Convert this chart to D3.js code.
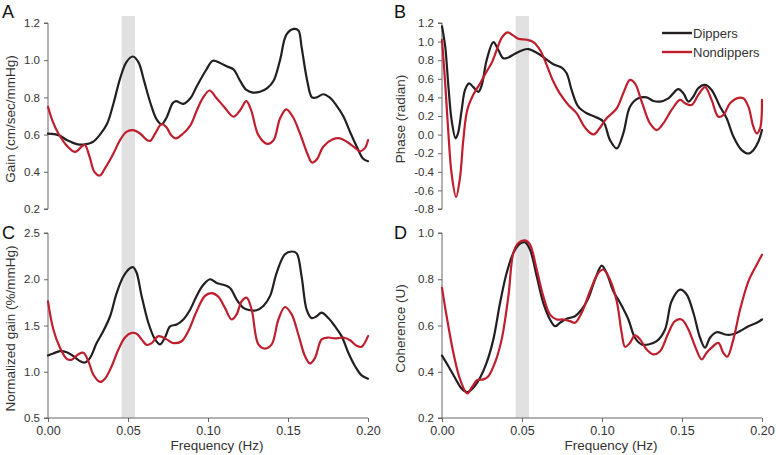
<!DOCTYPE html>
<html><head><meta charset="utf-8">
<script src="https://cdn.jsdelivr.net/npm/d3@7"></script>
<style>
body{margin:0;background:#fff;}
svg{display:block;font-family:Arial,"Liberation Sans",Helvetica,sans-serif;}
</style></head><body>
<svg id="chart" width="776" height="455"></svg>
<script>
// ---- Data ----
const xTicks = [0, 0.05, 0.10, 0.15, 0.20];
const bandRange = [0.046, 0.0544];
const seriesNames = ["Dippers", "Nondippers"];

const gainTicks = [0.2, 0.4, 0.6, 0.8, 1.0, 1.2];
const gainDippers = [[0,0.605],[0.0065,0.597],[0.012,0.57],[0.018,0.549],[0.023,0.547],[0.028,0.56],[0.0325,0.60],[0.037,0.66],[0.041,0.77],[0.045,0.90],[0.049,0.99],[0.053,1.02],[0.0565,0.99],[0.06,0.89],[0.064,0.77],[0.068,0.68],[0.071,0.655],[0.074,0.69],[0.078,0.77],[0.080,0.78],[0.0845,0.765],[0.089,0.795],[0.093,0.86],[0.099,0.95],[0.103,0.997],[0.1075,0.985],[0.112,0.966],[0.116,0.95],[0.12,0.89],[0.124,0.84],[0.128,0.826],[0.1325,0.83],[0.137,0.85],[0.141,0.89],[0.145,1.0],[0.149,1.137],[0.1535,1.168],[0.1565,1.16],[0.1585,1.07],[0.162,0.89],[0.165,0.80],[0.168,0.80],[0.172,0.817],[0.176,0.80],[0.18,0.76],[0.1845,0.70],[0.189,0.61],[0.193,0.535],[0.197,0.47],[0.2,0.457]];
const gainNondippers = [[0,0.75],[0.003,0.67],[0.0065,0.606],[0.012,0.538],[0.017,0.507],[0.021,0.535],[0.023,0.545],[0.026,0.48],[0.029,0.40],[0.0325,0.38],[0.0355,0.417],[0.041,0.50],[0.045,0.57],[0.049,0.615],[0.053,0.624],[0.0575,0.606],[0.062,0.57],[0.064,0.567],[0.067,0.606],[0.071,0.657],[0.074,0.64],[0.077,0.597],[0.080,0.58],[0.0845,0.606],[0.089,0.65],[0.093,0.73],[0.097,0.80],[0.101,0.837],[0.105,0.80],[0.11,0.75],[0.116,0.696],[0.12,0.73],[0.124,0.78],[0.127,0.73],[0.1315,0.597],[0.137,0.55],[0.141,0.57],[0.145,0.687],[0.149,0.736],[0.153,0.696],[0.1575,0.606],[0.162,0.50],[0.165,0.45],[0.168,0.466],[0.172,0.535],[0.178,0.575],[0.1825,0.58],[0.187,0.56],[0.191,0.535],[0.195,0.51],[0.198,0.527],[0.2,0.57]];

const phaseTicks = [-0.8,-0.6,-0.4,-0.2,0.0,0.2,0.4,0.6,0.8,1.0,1.2];
const phaseDippers = [[0,1.164],[0.002,0.948],[0.004,0.52],[0.006,0.157],[0.0085,-0.04],[0.010,0.013],[0.0123,0.265],[0.0144,0.48],[0.0169,0.55],[0.0196,0.51],[0.0227,0.46],[0.0248,0.53],[0.0279,0.80],[0.0321,0.995],[0.0352,0.91],[0.0383,0.82],[0.0415,0.83],[0.0456,0.87],[0.0498,0.905],[0.054,0.92],[0.0592,0.88],[0.0644,0.82],[0.0696,0.757],[0.0748,0.72],[0.0779,0.66],[0.081,0.48],[0.0852,0.30],[0.0904,0.229],[0.0956,0.193],[0.1008,0.14],[0.105,-0.059],[0.1092,-0.149],[0.1133,0.013],[0.1175,0.30],[0.1227,0.39],[0.1279,0.40],[0.1321,0.362],[0.1363,0.355],[0.1415,0.39],[0.1477,0.488],[0.1508,0.445],[0.154,0.355],[0.1571,0.41],[0.1602,0.50],[0.1644,0.534],[0.1685,0.48],[0.1738,0.30],[0.1779,0.175],[0.1821,-0.02],[0.1873,-0.167],[0.1915,-0.203],[0.1946,-0.167],[0.1977,-0.077],[0.2,0.049]];
const phaseNondippers = [[0,1.02],[0.002,0.55],[0.004,0.013],[0.006,-0.42],[0.0088,-0.67],[0.0113,-0.455],[0.0133,-0.06],[0.0158,0.265],[0.0196,0.43],[0.0238,0.55],[0.0279,0.68],[0.031,0.77],[0.0342,0.91],[0.0373,1.04],[0.0408,1.10],[0.0442,1.07],[0.0477,1.03],[0.0529,1.02],[0.0571,0.995],[0.0613,0.91],[0.0654,0.75],[0.0696,0.57],[0.0738,0.437],[0.079,0.319],[0.0842,0.229],[0.0883,0.103],[0.0925,0.02],[0.095,0.002],[0.0977,0.049],[0.1029,0.175],[0.1092,0.283],[0.1133,0.445],[0.1175,0.588],[0.1206,0.55],[0.1248,0.355],[0.13,0.12],[0.1342,0.049],[0.1383,0.12],[0.1435,0.265],[0.1488,0.373],[0.1519,0.337],[0.156,0.319],[0.1602,0.427],[0.1644,0.51],[0.1685,0.373],[0.1727,0.193],[0.1758,0.21],[0.18,0.337],[0.1842,0.39],[0.1883,0.39],[0.1915,0.30],[0.1946,0.085],[0.1967,0.013],[0.1988,0.067],[0.2,0.373]];

const normTicks = [0.5, 1.0, 1.5, 2.0, 2.5];
const normDippers = [[0,1.176],[0.0033,1.198],[0.0075,1.223],[0.0117,1.21],[0.0158,1.17],[0.02,1.115],[0.0231,1.10],[0.0263,1.15],[0.0304,1.31],[0.0346,1.44],[0.0388,1.60],[0.0429,1.85],[0.0471,2.03],[0.0513,2.12],[0.0533,2.13],[0.0554,2.07],[0.0585,1.82],[0.0627,1.53],[0.0669,1.35],[0.07,1.295],[0.0731,1.37],[0.0763,1.49],[0.0804,1.51],[0.0846,1.565],[0.0888,1.67],[0.0929,1.82],[0.0971,1.94],[0.1013,2.0],[0.1054,1.96],[0.1096,1.94],[0.1138,1.906],[0.1179,1.78],[0.1221,1.69],[0.1263,1.665],[0.1304,1.665],[0.1346,1.71],[0.1388,1.82],[0.1429,2.07],[0.1481,2.27],[0.1523,2.30],[0.1554,2.28],[0.1585,2.03],[0.1617,1.67],[0.1648,1.58],[0.1679,1.60],[0.171,1.64],[0.1752,1.58],[0.1794,1.49],[0.1835,1.385],[0.1877,1.205],[0.1919,1.06],[0.196,0.96],[0.2,0.925]];
const normNondippers = [[0,1.76],[0.0033,1.46],[0.0075,1.26],[0.0117,1.14],[0.0148,1.13],[0.019,1.19],[0.0221,1.205],[0.0252,1.115],[0.0283,0.97],[0.0325,0.89],[0.0356,0.925],[0.0398,1.06],[0.044,1.24],[0.0481,1.37],[0.0523,1.42],[0.0554,1.41],[0.0585,1.35],[0.0617,1.29],[0.0648,1.31],[0.069,1.385],[0.0742,1.35],[0.0783,1.31],[0.0835,1.33],[0.0877,1.44],[0.0929,1.655],[0.0981,1.82],[0.1023,1.85],[0.1065,1.81],[0.1106,1.69],[0.1148,1.565],[0.1179,1.62],[0.121,1.76],[0.1242,1.80],[0.1273,1.67],[0.1315,1.295],[0.1356,1.25],[0.1398,1.295],[0.144,1.565],[0.1481,1.70],[0.1523,1.62],[0.1565,1.40],[0.1606,1.17],[0.1638,1.09],[0.1669,1.15],[0.171,1.35],[0.1752,1.37],[0.1794,1.36],[0.1846,1.37],[0.1888,1.34],[0.1929,1.28],[0.196,1.27],[0.2,1.385]];

const cohTicks = [0.2, 0.4, 0.6, 0.8, 1.0];
const cohDippers = [[0,0.47],[0.004,0.424],[0.0081,0.374],[0.0123,0.327],[0.0158,0.312],[0.0196,0.331],[0.0238,0.374],[0.0279,0.439],[0.0321,0.54],[0.0363,0.698],[0.0404,0.827],[0.0446,0.914],[0.0488,0.954],[0.0519,0.96],[0.055,0.928],[0.0592,0.813],[0.0633,0.698],[0.0675,0.626],[0.0706,0.597],[0.0738,0.612],[0.0779,0.629],[0.0831,0.64],[0.0873,0.669],[0.0915,0.719],[0.0956,0.798],[0.0998,0.859],[0.1029,0.827],[0.1071,0.748],[0.1113,0.698],[0.1165,0.626],[0.1206,0.547],[0.1248,0.518],[0.129,0.518],[0.1342,0.532],[0.1394,0.583],[0.1435,0.705],[0.1488,0.755],[0.1529,0.734],[0.1571,0.655],[0.1613,0.547],[0.1644,0.504],[0.1675,0.547],[0.1717,0.571],[0.1769,0.561],[0.181,0.561],[0.1863,0.576],[0.1915,0.597],[0.1967,0.612],[0.2,0.626]];
const cohNondippers = [[0,0.763],[0.0029,0.64],[0.0071,0.482],[0.0113,0.367],[0.0158,0.306],[0.0185,0.331],[0.0221,0.364],[0.0258,0.367],[0.029,0.381],[0.0331,0.439],[0.0373,0.54],[0.0415,0.727],[0.0446,0.914],[0.0477,0.957],[0.0519,0.968],[0.055,0.95],[0.0592,0.842],[0.0633,0.727],[0.0675,0.647],[0.0717,0.626],[0.0758,0.626],[0.08,0.619],[0.0831,0.612],[0.0873,0.655],[0.0925,0.748],[0.0977,0.827],[0.1008,0.842],[0.105,0.798],[0.1092,0.705],[0.1123,0.568],[0.1144,0.508],[0.1175,0.525],[0.1206,0.557],[0.1238,0.54],[0.1279,0.496],[0.1321,0.475],[0.1363,0.489],[0.1415,0.568],[0.1456,0.619],[0.1498,0.626],[0.154,0.583],[0.1581,0.511],[0.1623,0.453],[0.1654,0.482],[0.1685,0.504],[0.1727,0.525],[0.1758,0.482],[0.1783,0.465],[0.1821,0.54],[0.1863,0.669],[0.1915,0.791],[0.1967,0.863],[0.2,0.906]];

// ---- Layout ----
const svg = d3.select("#chart");
const colors = {Dippers: "#231f20", Nondippers: "#be1e2d"};
const textColor = "#333";
const fmt1 = v => d3.format(".1f")(v).replace("\u2212", "-");

const panels = [
  {letter:"A", x0:48, x1:368, y0:23, y1:209, domain:[0.2,1.2], ticks:gainTicks, title:"Gain (cm/sec/mmHg)", data:[gainDippers,gainNondippers], xAxis:false, lx:2, ly:18, tx:10},
  {letter:"B", x0:442, x1:762, y0:23, y1:209, domain:[-0.8,1.2], ticks:phaseTicks, title:"Phase (radian)", data:[phaseDippers,phaseNondippers], xAxis:false, lx:394, ly:18, tx:400},
  {letter:"C", x0:48, x1:368, y0:233, y1:418, domain:[0.5,2.5], ticks:normTicks, title:"Normalized gain (%/mmHg)", data:[normDippers,normNondippers], xAxis:true, lx:2, ly:239, tx:10},
  {letter:"D", x0:442, x1:762, y0:233, y1:418, domain:[0.2,1.0], ticks:cohTicks, title:"Coherence (U)", data:[cohDippers,cohNondippers], xAxis:true, lx:394, ly:239, tx:400}
];

// gray bands spanning each column
[[48,368],[442,762]].forEach(([a,b]) => {
  const x = d3.scaleLinear().domain([0,0.2]).range([a,b]);
  svg.append("rect")
    .attr("x", x(bandRange[0])).attr("width", x(bandRange[1]) - x(bandRange[0]))
    .attr("y", 16).attr("height", 418 - 16)
    .attr("fill", "#e1e1e1");
});

panels.forEach(p => {
  const x = d3.scaleLinear().domain([0,0.2]).range([p.x0,p.x1]);
  const y = d3.scaleLinear().domain(p.domain).range([p.y1,p.y0]);
  const g = svg.append("g");

  const yAxis = g.append("g").attr("transform", `translate(${p.x0},0)`)
    .call(d3.axisLeft(y).tickValues(p.ticks).tickFormat(fmt1).tickSize(4).tickPadding(4));
  yAxis.select(".domain").attr("stroke","#666").attr("d", `M-4,${p.y0}H0V${p.y1}H-4`);
  yAxis.selectAll(".tick line").attr("stroke","#666");
  yAxis.selectAll("text").attr("fill", textColor).attr("font-size", 11.5).attr("font-family","Arial,'Liberation Sans',sans-serif");

  if (p.xAxis) {
    const xAxis = g.append("g").attr("transform", `translate(0,${p.y1})`)
      .call(d3.axisBottom(x).tickValues(xTicks).tickFormat(d3.format(".2f")).tickSize(4).tickPadding(4));
    xAxis.select(".domain").attr("stroke","#666").attr("d", `M${p.x0},0H${p.x1}`);
    xAxis.selectAll(".tick line").attr("stroke","#666");
    xAxis.selectAll("text").attr("fill", textColor).attr("font-size", 12.5).attr("font-family","Arial,'Liberation Sans',sans-serif");
    g.append("text").attr("x", (p.x0+p.x1)/2 + 9).attr("y", 450)
      .attr("text-anchor","middle").attr("font-size", 13.5).attr("fill", textColor)
      .text("Frequency (Hz)");
  }

  g.append("text")
    .attr("transform", `translate(${p.tx + 5},${(p.y0+p.y1)/2 + 3}) rotate(-90)`)
    .attr("text-anchor","middle").attr("font-size", 13.5).attr("fill", textColor)
    .text(p.title);

  g.append("text").attr("x", p.lx).attr("y", p.ly)
    .attr("font-size", 18).attr("fill", "#111").text(p.letter);

  const line = d3.line().x(d => x(d[0])).y(d => y(d[1])).curve(d3.curveCatmullRom.alpha(0.5));
  p.data.forEach((s, i) => {
    g.append("path").datum(s).attr("d", line)
      .attr("fill","none").attr("stroke", colors[seriesNames[i]])
      .attr("stroke-width", 2.2).attr("stroke-linejoin","round").attr("stroke-linecap","round");
  });
});

// legend
const leg = svg.append("g");
seriesNames.forEach((n, i) => {
  const yy = 33 + i * 19;
  leg.append("line").attr("x1", 662).attr("x2", 692).attr("y1", yy).attr("y2", yy)
    .attr("stroke", colors[n]).attr("stroke-width", 2.4);
  leg.append("text").attr("x", 693).attr("y", yy + 4.5)
    .attr("font-size", 13).attr("fill", textColor).text(n);
});
</script>
</body></html>
